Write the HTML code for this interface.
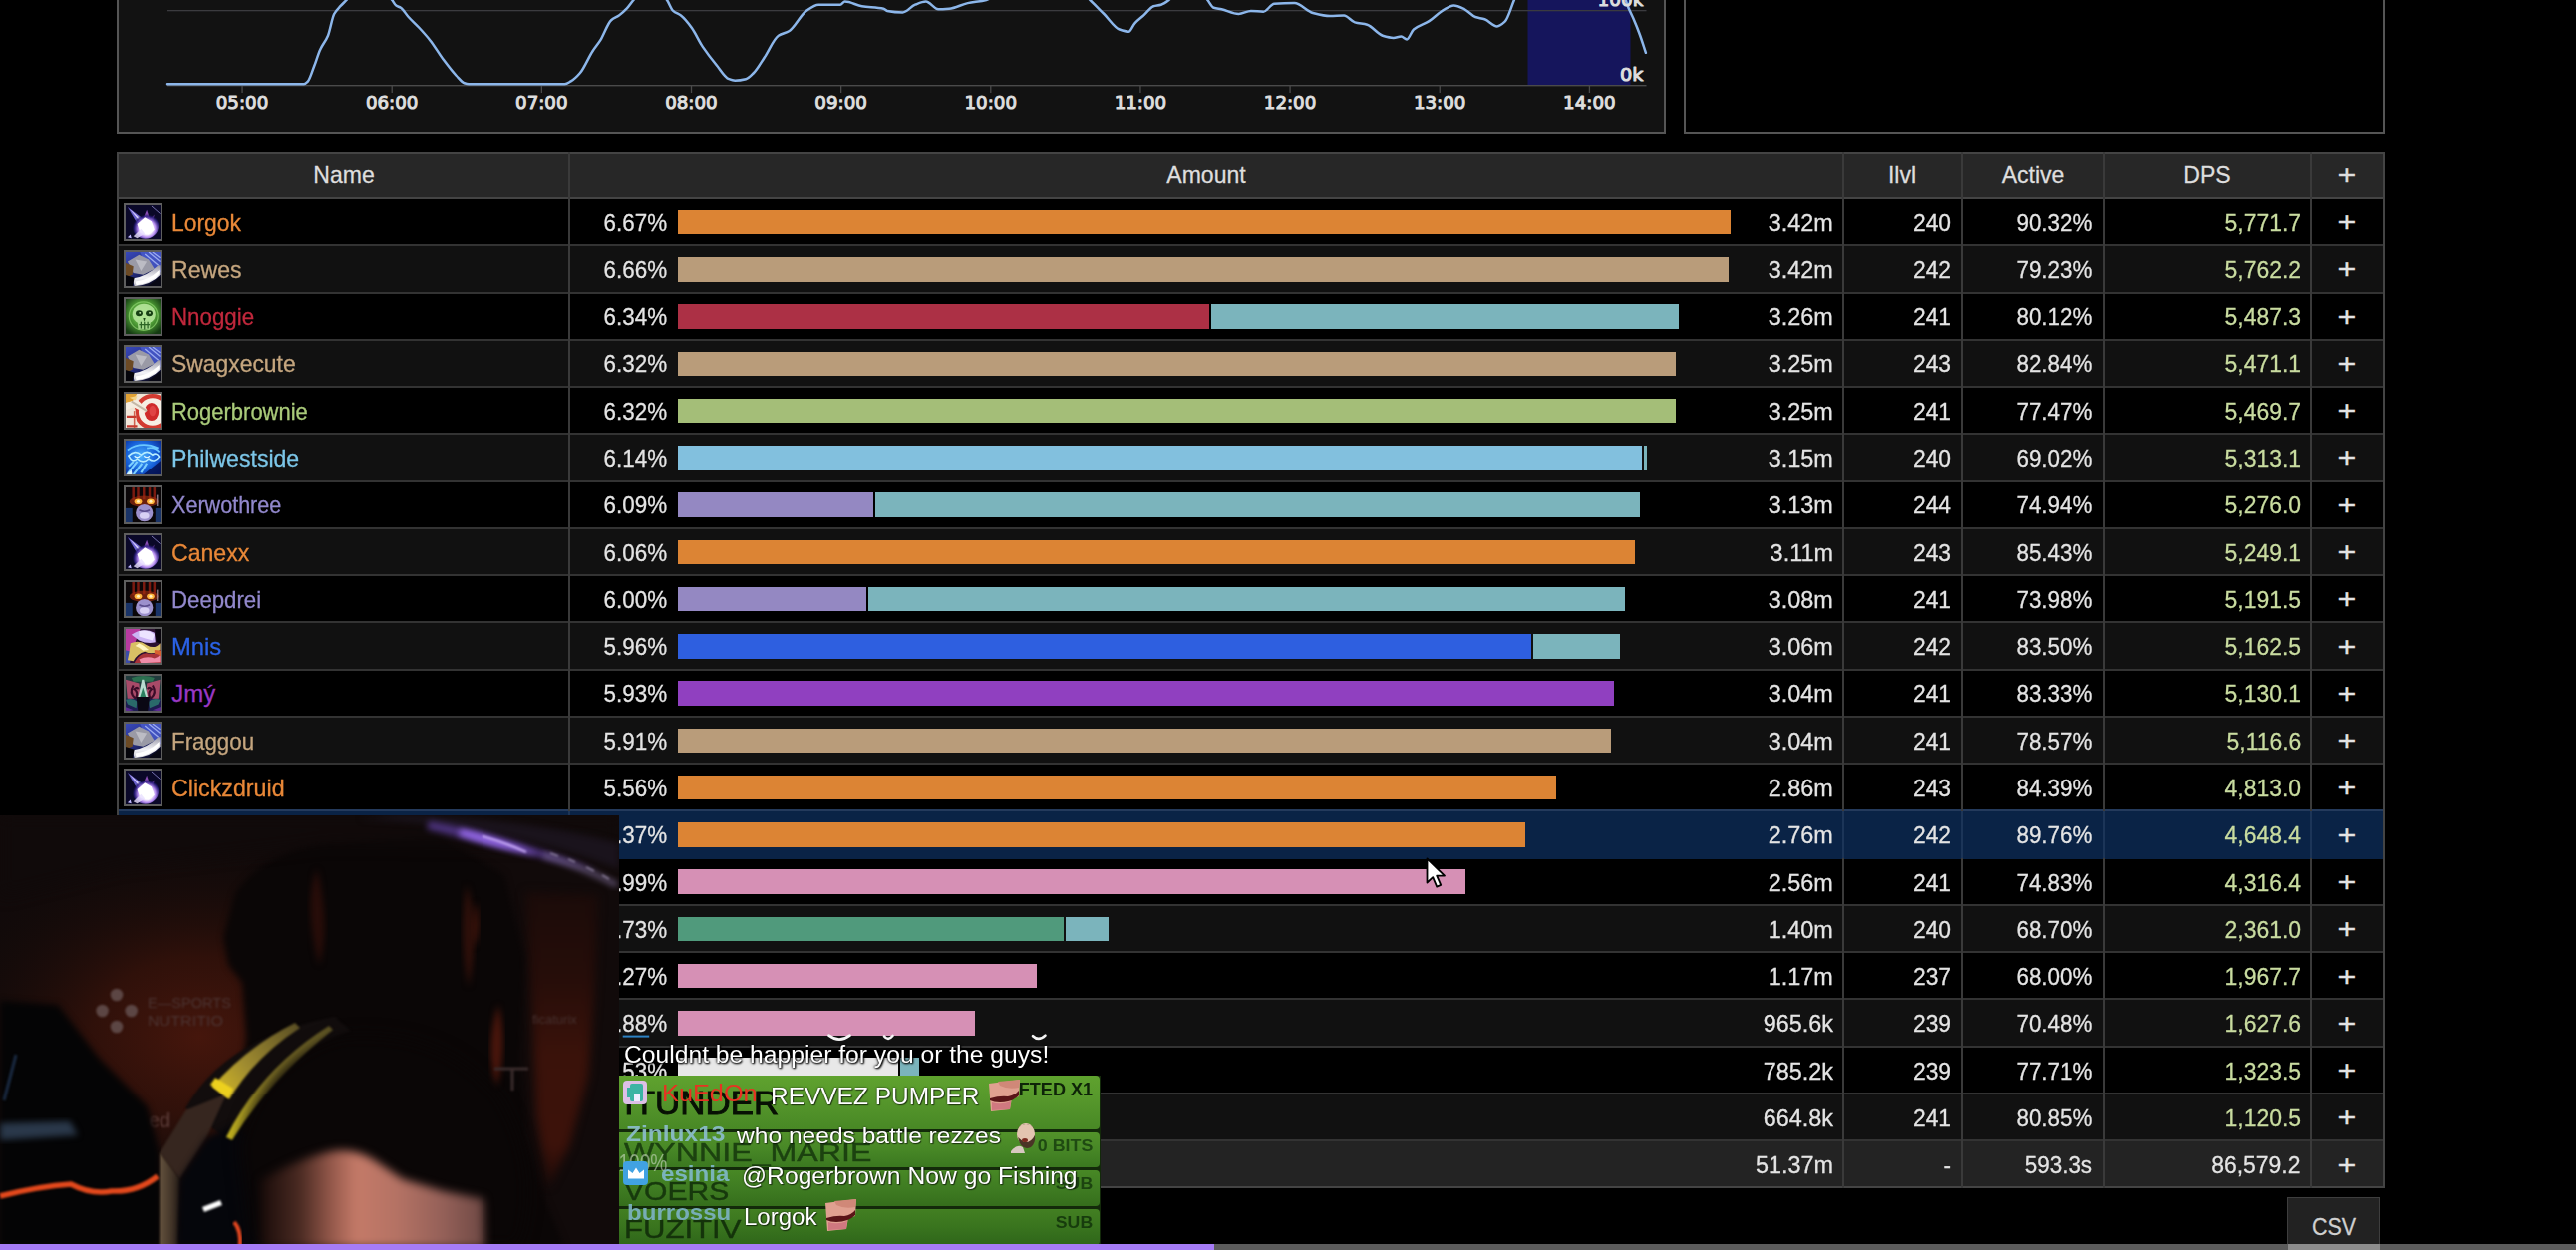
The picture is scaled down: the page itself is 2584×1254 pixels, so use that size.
<!DOCTYPE html>
<html lang="en"><head><meta charset="utf-8"><title>Damage Done</title>
<style>
html,body{margin:0;padding:0;background:#000;}
body{width:2584px;height:1254px;overflow:hidden;position:relative;font-family:"Liberation Sans",Arial,sans-serif;}
#root{position:absolute;left:0;top:0;width:2584px;height:1254px;overflow:hidden;background:#000;}
#root div,#root span,#root svg{position:absolute;}
.t{white-space:nowrap;line-height:30px;height:30px;-webkit-text-stroke:0.3px currentColor;}
.b{white-space:nowrap;line-height:30px;height:30px;font-weight:bold;font-family:"DejaVu Sans","Liberation Sans",sans-serif;}
.c{white-space:nowrap;line-height:30px;height:30px;}
.ic{width:34.6px;height:34.2px;border:2px solid #5e5e5e;overflow:hidden;background:#000;}
</style></head><body><div id="root">
<div style="left:117.00px;top:-10.00px;width:1554.00px;height:143.50px;background:#121212;box-sizing:border-box;border:2px solid #555;"></div>
<div style="left:1688.50px;top:-10.00px;width:703.50px;height:143.50px;background:#000;box-sizing:border-box;border:2px solid #555;"></div>
<svg width="0" height="0" style="left:0;top:0"><defs>
<radialGradient id="gBal" cx="0.55" cy="0.62" r="0.55"><stop offset="0" stop-color="#fff"/><stop offset="0.38" stop-color="#fff"/><stop offset="0.6" stop-color="#b68cf0"/><stop offset="0.85" stop-color="#2a1c80" stop-opacity="0.8"/><stop offset="1" stop-color="#0a0830" stop-opacity="0"/></radialGradient>
<linearGradient id="gArmsBg" x1="0" y1="0" x2="0.6" y2="1"><stop offset="0" stop-color="#3a4cc0"/><stop offset="0.5" stop-color="#27308a"/><stop offset="1" stop-color="#0a0a20"/></linearGradient>
<linearGradient id="gBlade" x1="0" y1="0" x2="0" y2="1"><stop offset="0" stop-color="#9a9aa8"/><stop offset="0.6" stop-color="#f4f4f8"/><stop offset="1" stop-color="#c0c0c8"/></linearGradient>
<radialGradient id="gUh" cx="0.5" cy="0.45" r="0.6"><stop offset="0" stop-color="#9be070"/><stop offset="0.55" stop-color="#4c9a34"/><stop offset="1" stop-color="#143a12"/></radialGradient>
<radialGradient id="gFr" cx="0.45" cy="0.45" r="0.65"><stop offset="0" stop-color="#4ab0ff"/><stop offset="0.6" stop-color="#1660d8"/><stop offset="1" stop-color="#0a2a90"/></radialGradient>
<linearGradient id="gDemo" x1="0" y1="0" x2="0" y2="1"><stop offset="0" stop-color="#3a0c08"/><stop offset="0.35" stop-color="#4a1a10"/><stop offset="0.6" stop-color="#3a3060"/><stop offset="1" stop-color="#1a2a58"/></linearGradient>
<linearGradient id="gEnh" x1="0" y1="0" x2="1" y2="1"><stop offset="0" stop-color="#7038b0"/><stop offset="0.4" stop-color="#c890d8"/><stop offset="0.7" stop-color="#c05060"/><stop offset="1" stop-color="#902030"/></linearGradient>
<linearGradient id="gHav" x1="0" y1="0" x2="0" y2="1"><stop offset="0" stop-color="#4a5a5a"/><stop offset="0.6" stop-color="#2a4a4a"/><stop offset="1" stop-color="#1a2a50"/></linearGradient>
<radialGradient id="gCamL" cx="0.5" cy="0.5" r="0.5"><stop offset="0" stop-color="#3c130b"/><stop offset="0.5" stop-color="#2a0e09" stop-opacity="0.85"/><stop offset="1" stop-color="#0d0706" stop-opacity="0"/></radialGradient>
<radialGradient id="gCamR" cx="0.5" cy="0.5" r="0.5"><stop offset="0" stop-color="#3a1009"/><stop offset="0.6" stop-color="#2a0c08" stop-opacity="0.8"/><stop offset="1" stop-color="#0d0706" stop-opacity="0"/></radialGradient>
<radialGradient id="gSkin" cx="0.42" cy="0.45" r="0.6"><stop offset="0" stop-color="#d08270"/><stop offset="0.5" stop-color="#b06a5c"/><stop offset="1" stop-color="#6a3a34"/></radialGradient>
<linearGradient id="gStripe" x1="0" y1="0" x2="0" y2="1"><stop offset="0" stop-color="#65a930"/><stop offset="0.5" stop-color="#5a9c2a"/><stop offset="1" stop-color="#4a8622"/></linearGradient>
<filter id="bl2" color-interpolation-filters="sRGB" x="-20%" y="-20%" width="140%" height="140%"><feGaussianBlur stdDeviation="2"/></filter>
<filter id="bl5" color-interpolation-filters="sRGB" x="-20%" y="-20%" width="140%" height="140%"><feGaussianBlur stdDeviation="5"/></filter>
<filter id="bl1" color-interpolation-filters="sRGB" x="-20%" y="-20%" width="140%" height="140%"><feGaussianBlur stdDeviation="0.8"/></filter>
</defs></svg>
<svg width="1700" height="134" viewBox="0 0 1700 134" style="left:0;top:0">
<rect x="1532.5" y="0" width="103" height="85" fill="#15155c"/>
<rect x="168" y="10" width="1483.5" height="1.3" fill="#3b3b3f"/>
<rect x="168" y="85" width="1483.5" height="1.4" fill="#4a4a4a"/>
<rect x="242.40" y="86" width="1.3" height="7" fill="#4a4a4a"/>
<rect x="392.55" y="86" width="1.3" height="7" fill="#4a4a4a"/>
<rect x="542.70" y="86" width="1.3" height="7" fill="#4a4a4a"/>
<rect x="692.85" y="86" width="1.3" height="7" fill="#4a4a4a"/>
<rect x="843.00" y="86" width="1.3" height="7" fill="#4a4a4a"/>
<rect x="993.15" y="86" width="1.3" height="7" fill="#4a4a4a"/>
<rect x="1143.30" y="86" width="1.3" height="7" fill="#4a4a4a"/>
<rect x="1293.45" y="86" width="1.3" height="7" fill="#4a4a4a"/>
<rect x="1443.60" y="86" width="1.3" height="7" fill="#4a4a4a"/>
<rect x="1593.75" y="86" width="1.3" height="7" fill="#4a4a4a"/>
<path d="M168.0 84.2 C213.7 84.2 259.3 84.2 305.0 84.2 C306.3 84.2 307.5 82.9 308.8 81.6 C310.9 79.5 312.9 72.1 315.0 66.8 C317.1 61.5 319.1 54.2 321.2 49.7 C323.8 44.0 326.4 41.9 329.0 35.7 C331.1 30.7 333.1 17.8 335.2 14.0 C337.3 10.2 339.3 8.5 341.4 6.2 C343.5 3.9 345.5 2.2 347.6 0.0 C349.1 -1.6 350.5 -5.0 352.0 -5.0 C364.3 -5.0 376.7 -5.0 389.0 -5.0 C390.4 -5.0 391.8 -1.8 393.2 0.0 C394.6 1.7 395.9 4.6 397.3 5.6 C398.9 6.7 400.4 6.8 402.0 7.8 C404.6 9.5 407.1 14.2 409.7 17.0 C413.3 21.0 417.0 24.1 420.6 28.0 C424.2 31.9 427.8 35.8 431.4 40.4 C436.1 46.3 440.7 54.4 445.4 60.6 C449.5 66.1 453.7 71.7 457.8 76.0 C460.4 78.7 463.0 82.3 465.6 83.2 C467.1 83.7 468.7 84.2 470.2 84.2 C502.3 84.2 534.4 84.2 566.5 84.2 C568.6 84.2 570.6 82.6 572.7 81.4 C575.8 79.6 578.9 76.6 582.0 73.0 C586.2 68.1 590.3 57.6 594.5 51.2 C597.1 47.2 599.6 44.5 602.2 40.4 C605.8 34.6 609.5 23.4 613.1 20.2 C615.7 17.9 618.3 17.4 620.9 15.5 C623.5 13.7 626.0 11.4 628.6 8.7 C630.9 6.3 633.2 2.7 635.5 0.0 C637.0 -1.8 638.5 -5.0 640.0 -5.0 C648.3 -5.0 656.7 -5.0 665.0 -5.0 C666.3 -5.0 667.7 -1.9 669.0 0.0 C671.1 3.0 673.1 9.0 675.2 10.9 C677.8 13.2 680.4 13.5 683.0 15.5 C686.6 18.3 690.3 23.0 693.9 28.0 C697.5 33.0 701.1 41.2 704.7 46.6 C709.4 53.6 714.0 59.5 718.7 65.2 C722.8 70.2 727.0 77.7 731.1 79.2 C733.2 80.0 735.2 80.7 737.3 80.7 C740.9 80.7 744.6 80.1 748.2 79.2 C750.8 78.6 753.4 75.6 756.0 73.0 C759.6 69.4 763.2 62.9 766.8 57.5 C771.5 50.5 776.1 38.8 780.8 35.7 C784.4 33.3 788.1 33.2 791.7 31.0 C797.4 27.5 803.1 14.8 808.8 10.9 C812.9 8.1 817.1 4.7 821.2 4.7 C828.4 4.7 835.7 4.7 842.9 4.7 C844.5 4.7 846.0 1.6 847.6 1.6 C853.3 1.6 859.0 5.3 864.7 6.2 C871.9 7.4 879.2 7.0 886.4 8.7 C887.6 9.0 888.8 10.7 890.0 10.9 C895.2 11.9 900.3 12.4 905.5 12.4 C909.7 12.4 913.8 6.3 918.0 4.7 C921.6 3.3 925.2 1.6 928.8 1.6 C932.9 1.6 937.1 9.3 941.2 9.3 C944.8 9.3 948.5 9.0 952.1 8.7 C958.3 8.2 964.5 4.4 970.7 3.1 C976.9 1.8 983.2 1.6 989.4 0.0 C992.9 -0.9 996.5 -5.0 1000.0 -5.0 C1029.3 -5.0 1058.7 -5.0 1088.0 -5.0 C1089.8 -5.0 1091.6 -1.7 1093.4 0.0 C1098.1 4.5 1102.7 9.3 1107.4 14.0 C1112.6 19.2 1117.7 27.6 1122.9 29.5 C1126.0 30.6 1129.1 31.7 1132.2 31.7 C1134.3 31.7 1136.3 25.6 1138.4 23.3 C1141.5 19.9 1144.7 17.8 1147.8 14.9 C1150.9 12.1 1154.0 7.2 1157.1 6.2 C1159.7 5.4 1162.2 5.5 1164.8 4.7 C1167.4 3.9 1170.0 1.9 1172.6 0.0 C1174.4 -1.3 1176.2 -5.0 1178.0 -5.0 C1188.0 -5.0 1198.0 -5.0 1208.0 -5.0 C1209.1 -5.0 1210.3 -1.5 1211.4 0.0 C1213.5 2.8 1215.5 7.1 1217.6 7.8 C1220.2 8.7 1222.8 8.7 1225.4 9.3 C1231.1 10.6 1236.8 14.0 1242.5 14.0 C1246.6 14.0 1250.8 10.9 1254.9 10.9 C1259.0 10.9 1263.2 11.8 1267.3 11.8 C1270.9 11.8 1274.6 3.9 1278.2 3.7 C1284.9 3.3 1291.7 3.1 1298.4 3.1 C1304.6 3.1 1310.8 11.3 1317.0 13.0 C1322.7 14.5 1328.4 16.1 1334.1 16.1 C1338.8 16.1 1343.4 15.5 1348.1 15.5 C1351.7 15.5 1355.4 21.3 1359.0 22.4 C1363.1 23.6 1367.3 23.6 1371.4 24.8 C1376.6 26.3 1381.7 34.1 1386.9 35.7 C1390.5 36.8 1394.2 37.9 1397.8 37.9 C1400.4 37.9 1402.9 36.6 1405.5 36.6 C1407.4 36.6 1409.2 39.4 1411.1 39.4 C1413.4 39.4 1415.7 31.4 1418.0 29.5 C1423.2 25.2 1428.3 24.4 1433.5 21.1 C1438.7 17.8 1443.8 11.9 1449.0 9.3 C1452.1 7.7 1455.2 5.6 1458.3 5.6 C1461.9 5.6 1465.6 7.6 1469.2 9.3 C1472.8 11.0 1476.4 15.7 1480.0 17.0 C1483.1 18.1 1486.3 18.2 1489.4 19.3 C1493.5 20.7 1497.7 26.4 1501.8 26.4 C1504.4 26.4 1507.0 24.1 1509.6 21.7 C1512.7 18.8 1515.8 7.3 1518.9 0.0 C1519.6 -1.7 1520.3 -4.9 1521.0 -5.0 C1556.7 -7.9 1592.3 -8.0 1628.0 -8.0 C1629.4 -8.0 1630.8 1.1 1632.2 4.7 C1634.3 10.1 1636.3 13.7 1638.4 18.6 C1640.5 23.5 1642.6 28.5 1644.7 34.2 C1646.8 39.8 1648.8 46.6 1650.9 52.8" fill="none" stroke="#8cb6ea" stroke-width="2.5" stroke-linejoin="round" stroke-linecap="round"/>
<g font-family="DejaVu Sans, Liberation Sans, sans-serif" font-size="18" fill="#dedede" stroke="#dedede" stroke-width="1.05" stroke-linejoin="round">
<text x="243.00" y="109.4" text-anchor="middle" textLength="52.5" lengthAdjust="spacingAndGlyphs">05:00</text>
<text x="393.15" y="109.4" text-anchor="middle" textLength="52.5" lengthAdjust="spacingAndGlyphs">06:00</text>
<text x="543.30" y="109.4" text-anchor="middle" textLength="52.5" lengthAdjust="spacingAndGlyphs">07:00</text>
<text x="693.45" y="109.4" text-anchor="middle" textLength="52.5" lengthAdjust="spacingAndGlyphs">08:00</text>
<text x="843.60" y="109.4" text-anchor="middle" textLength="52.5" lengthAdjust="spacingAndGlyphs">09:00</text>
<text x="993.75" y="109.4" text-anchor="middle" textLength="52.5" lengthAdjust="spacingAndGlyphs">10:00</text>
<text x="1143.90" y="109.4" text-anchor="middle" textLength="52.5" lengthAdjust="spacingAndGlyphs">11:00</text>
<text x="1294.05" y="109.4" text-anchor="middle" textLength="52.5" lengthAdjust="spacingAndGlyphs">12:00</text>
<text x="1444.20" y="109.4" text-anchor="middle" textLength="52.5" lengthAdjust="spacingAndGlyphs">13:00</text>
<text x="1594.35" y="109.4" text-anchor="middle" textLength="52.5" lengthAdjust="spacingAndGlyphs">14:00</text>
<text x="1648.5" y="80.9" text-anchor="end" textLength="23.5" lengthAdjust="spacingAndGlyphs">0k</text>
<text x="1648.5" y="6.2" text-anchor="end" textLength="46" lengthAdjust="spacingAndGlyphs">100k</text>
</g></svg>
<div style="left:117.50px;top:151.50px;width:2274.50px;height:47.65px;background:#272727;"></div>
<div style="left:117.50px;top:199.15px;width:2274.50px;height:47.25px;background:#000;"></div>
<div style="left:117.50px;top:246.40px;width:2274.50px;height:47.25px;background:#111;"></div>
<div style="left:117.50px;top:293.65px;width:2274.50px;height:47.25px;background:#000;"></div>
<div style="left:117.50px;top:340.90px;width:2274.50px;height:47.25px;background:#111;"></div>
<div style="left:117.50px;top:388.15px;width:2274.50px;height:47.25px;background:#000;"></div>
<div style="left:117.50px;top:435.40px;width:2274.50px;height:47.25px;background:#111;"></div>
<div style="left:117.50px;top:482.65px;width:2274.50px;height:47.25px;background:#000;"></div>
<div style="left:117.50px;top:529.90px;width:2274.50px;height:47.25px;background:#111;"></div>
<div style="left:117.50px;top:577.15px;width:2274.50px;height:47.25px;background:#000;"></div>
<div style="left:117.50px;top:624.40px;width:2274.50px;height:47.25px;background:#111;"></div>
<div style="left:117.50px;top:671.65px;width:2274.50px;height:47.25px;background:#000;"></div>
<div style="left:117.50px;top:718.90px;width:2274.50px;height:47.25px;background:#111;"></div>
<div style="left:117.50px;top:766.15px;width:2274.50px;height:47.25px;background:#000;"></div>
<div style="left:117.50px;top:813.40px;width:2274.50px;height:47.25px;background:#0a2346;"></div>
<div style="left:117.50px;top:860.65px;width:2274.50px;height:47.25px;background:#000;"></div>
<div style="left:117.50px;top:907.90px;width:2274.50px;height:47.25px;background:#111;"></div>
<div style="left:117.50px;top:955.15px;width:2274.50px;height:47.25px;background:#000;"></div>
<div style="left:117.50px;top:1002.40px;width:2274.50px;height:47.25px;background:#111;"></div>
<div style="left:117.50px;top:1049.65px;width:2274.50px;height:47.25px;background:#000;"></div>
<div style="left:117.50px;top:1096.90px;width:2274.50px;height:47.25px;background:#111;"></div>
<div style="left:117.50px;top:1144.15px;width:2274.50px;height:47.25px;background:#232323;"></div>
<div style="left:117.50px;top:151.50px;width:2274.50px;height:2.00px;background:#444;"></div>
<div style="left:117.50px;top:198.15px;width:2274.50px;height:2.00px;background:#444;"></div>
<div style="left:117.50px;top:245.40px;width:2274.50px;height:2.00px;background:#333;"></div>
<div style="left:117.50px;top:292.65px;width:2274.50px;height:2.00px;background:#333;"></div>
<div style="left:117.50px;top:339.90px;width:2274.50px;height:2.00px;background:#333;"></div>
<div style="left:117.50px;top:387.15px;width:2274.50px;height:2.00px;background:#333;"></div>
<div style="left:117.50px;top:434.40px;width:2274.50px;height:2.00px;background:#333;"></div>
<div style="left:117.50px;top:481.65px;width:2274.50px;height:2.00px;background:#333;"></div>
<div style="left:117.50px;top:528.90px;width:2274.50px;height:2.00px;background:#333;"></div>
<div style="left:117.50px;top:576.15px;width:2274.50px;height:2.00px;background:#333;"></div>
<div style="left:117.50px;top:623.40px;width:2274.50px;height:2.00px;background:#333;"></div>
<div style="left:117.50px;top:670.65px;width:2274.50px;height:2.00px;background:#333;"></div>
<div style="left:117.50px;top:717.90px;width:2274.50px;height:2.00px;background:#333;"></div>
<div style="left:117.50px;top:765.15px;width:2274.50px;height:2.00px;background:#333;"></div>
<div style="left:117.50px;top:812.40px;width:2274.50px;height:2.00px;background:#243a5c;"></div>
<div style="left:117.50px;top:859.65px;width:2274.50px;height:2.00px;background:#0a2346;"></div>
<div style="left:117.50px;top:906.90px;width:2274.50px;height:2.00px;background:#333;"></div>
<div style="left:117.50px;top:954.15px;width:2274.50px;height:2.00px;background:#333;"></div>
<div style="left:117.50px;top:1001.40px;width:2274.50px;height:2.00px;background:#333;"></div>
<div style="left:117.50px;top:1048.65px;width:2274.50px;height:2.00px;background:#333;"></div>
<div style="left:117.50px;top:1095.90px;width:2274.50px;height:2.00px;background:#333;"></div>
<div style="left:117.50px;top:1143.15px;width:2274.50px;height:2.00px;background:#333;"></div>
<div style="left:117.50px;top:1190.40px;width:2274.50px;height:2.00px;background:#444;"></div>
<div style="left:117.00px;top:151.50px;width:2.00px;height:1040.90px;background:#444;"></div>
<div style="left:570.00px;top:151.50px;width:2.00px;height:1040.90px;background:#3a3a3a;"></div>
<div style="left:1848.00px;top:151.50px;width:2.00px;height:1040.90px;background:#3a3a3a;"></div>
<div style="left:1966.50px;top:151.50px;width:2.00px;height:1040.90px;background:#3a3a3a;"></div>
<div style="left:2110.00px;top:151.50px;width:2.00px;height:1040.90px;background:#3a3a3a;"></div>
<div style="left:2316.50px;top:151.50px;width:2.00px;height:1040.90px;background:#3a3a3a;"></div>
<div style="left:2390.00px;top:151.50px;width:2.00px;height:1040.90px;background:#444;"></div>
<div style="left:119.50px;top:814.40px;width:2270.50px;height:46.25px;background:#0a2346;"></div>
<div style="left:570.00px;top:814.40px;width:2.00px;height:46.25px;background:#1c3558;"></div>
<div style="left:1848.00px;top:814.40px;width:2.00px;height:46.25px;background:#1c3558;"></div>
<div style="left:1966.50px;top:814.40px;width:2.00px;height:46.25px;background:#1c3558;"></div>
<div style="left:2110.00px;top:814.40px;width:2.00px;height:46.25px;background:#1c3558;"></div>
<div style="left:2316.50px;top:814.40px;width:2.00px;height:46.25px;background:#1c3558;"></div>
<span class="t" style="left:344.50px;top:160.80px;color:#dedede;font-size:24px;transform:translateX(-50%) scaleX(0.96);">Name</span>
<span class="t" style="left:1210.00px;top:160.80px;color:#dedede;font-size:24px;transform:translateX(-50%) scaleX(0.96);">Amount</span>
<span class="t" style="left:1908.25px;top:160.80px;color:#dedede;font-size:24px;transform:translateX(-50%) scaleX(0.96);">Ilvl</span>
<span class="t" style="left:2039.25px;top:160.80px;color:#dedede;font-size:24px;transform:translateX(-50%) scaleX(0.96);">Active</span>
<span class="t" style="left:2214.25px;top:160.80px;color:#dedede;font-size:24px;transform:translateX(-50%) scaleX(0.96);">DPS</span>
<span class="t" style="left:2354.25px;top:161.40px;color:#dedede;font-size:28px;transform:translateX(-50%) scaleX(1.15);">+</span>
<div class="ic" style="left:124px;top:203.88px"><svg width="36" height="36" viewBox="0 0 36 36" preserveAspectRatio="none" style="left:0;top:0;width:100%;height:100%"><g filter="url(#bl1)"><rect x="-2" y="-2" width="40" height="40" fill="#0a0828"/><path d="M2 2 L19 15 L13 21 Z" fill="#7a70e8" opacity="0.85"/><path d="M4 4 L17 16 L15 18 Z" fill="#d8d0ff"/><path d="M22 5 L26 17 L17 17 Z" fill="#b060e0" opacity="0.75"/><path d="M30 10 L27 22 L22 18 Z" fill="#9050d0" opacity="0.6"/><path d="M27 1 L36 9" stroke="#7c78b8" stroke-width="1"/><circle cx="20.5" cy="21.5" r="14" fill="url(#gBal)"/><path d="M12 20 L20 13 L27 17 L30 26 L24 31 L15 29 Z" fill="#fff"/><path d="M8 33 L16 25 L20 30 L12 35 Z" fill="#e8e0ff" opacity="0.8"/><path d="M2 34 L5 31 L6 35Z" fill="#c0b8ff"/></g></svg></div>
<span class="t" style="left:172.20px;top:208.62px;color:#e98838;font-size:24px;transform-origin:0 50%;transform:scaleX(0.9524);">Lorgok</span>
<span class="t" style="right:1914.50px;top:208.62px;color:#e4e4e4;font-size:24px;transform-origin:100% 50%;transform:scaleX(0.933);">6.67%</span>
<div style="left:680.00px;top:210.88px;width:1056.00px;height:24.60px;background:#dc8434;"></div>
<span class="t" style="right:745.00px;top:208.62px;color:#e4e4e4;font-size:24px;transform-origin:100% 50%;transform:scaleX(0.975);">3.42m</span>
<span class="t" style="right:627.00px;top:208.62px;color:#e4e4e4;font-size:24px;transform-origin:100% 50%;transform:scaleX(0.95);">240</span>
<span class="t" style="right:485.50px;top:208.62px;color:#e4e4e4;font-size:24px;transform-origin:100% 50%;transform:scaleX(0.933);">90.32%</span>
<span class="t" style="right:276.20px;top:208.62px;color:#c9dca0;font-size:24px;transform-origin:100% 50%;transform:scaleX(0.955);">5,771.7</span>
<span class="t" style="left:2354.20px;top:208.03px;color:#e4e4e4;font-size:28px;transform:translateX(-50%) scaleX(1.15);">+</span>
<div class="ic" style="left:124px;top:251.12px"><svg width="36" height="36" viewBox="0 0 36 36" preserveAspectRatio="none" style="left:0;top:0;width:100%;height:100%"><g filter="url(#bl1)"><rect x="-2" y="-2" width="40" height="40" fill="url(#gArmsBg)"/><path d="M14 -2 L38 -2 L38 22 L22 16 Z" fill="#4a5cd0" opacity="0.8"/><path d="M20 2 L34 14 M24 0 L36 10 M28 0 L36 6" stroke="#b8c8ff" stroke-width="1.4" opacity="0.75"/><path d="M2 10 L14 3 L24 8 L30 18 L18 24 L8 22 Z" fill="#9a9aa6"/><path d="M10 8 L22 10 L16 20 Z" fill="#c4c4cc" opacity="0.8"/><path d="M-1 11 L8 15 L7 24 L-1 27 Z" fill="#6c4a24"/><path d="M7 28 Q22 26 34 14 L36 14 L36 24 Q26 35 9 36 Z" fill="url(#gBlade)"/><path d="M10 31 Q24 30 35 19 L35 23 Q25 34 11 35 Z" fill="#fff"/><path d="M-1 24 L9 27 L7 37 L-1 37 Z" fill="#04040a"/><path d="M22 37 L37 25 L37 37 Z" fill="#080814"/></g></svg></div>
<span class="t" style="left:172.20px;top:255.90px;color:#c5a67f;font-size:24px;transform-origin:0 50%;transform:scaleX(0.961);">Rewes</span>
<span class="t" style="right:1914.50px;top:255.90px;color:#e4e4e4;font-size:24px;transform-origin:100% 50%;transform:scaleX(0.933);">6.66%</span>
<div style="left:680.00px;top:258.12px;width:1054.26px;height:24.60px;background:#b99c7a;"></div>
<span class="t" style="right:745.00px;top:255.90px;color:#e4e4e4;font-size:24px;transform-origin:100% 50%;transform:scaleX(0.975);">3.42m</span>
<span class="t" style="right:627.00px;top:255.90px;color:#e4e4e4;font-size:24px;transform-origin:100% 50%;transform:scaleX(0.95);">242</span>
<span class="t" style="right:485.50px;top:255.90px;color:#e4e4e4;font-size:24px;transform-origin:100% 50%;transform:scaleX(0.933);">79.23%</span>
<span class="t" style="right:276.20px;top:255.90px;color:#c9dca0;font-size:24px;transform-origin:100% 50%;transform:scaleX(0.955);">5,762.2</span>
<span class="t" style="left:2354.20px;top:255.30px;color:#e4e4e4;font-size:28px;transform:translateX(-50%) scaleX(1.15);">+</span>
<div class="ic" style="left:124px;top:298.37px"><svg width="36" height="36" viewBox="0 0 36 36" preserveAspectRatio="none" style="left:0;top:0;width:100%;height:100%"><g filter="url(#bl1)"><rect x="-2" y="-2" width="40" height="40" fill="url(#gUh)"/><circle cx="18.5" cy="18" r="15" fill="none" stroke="#86cc68" stroke-width="1.3" opacity="0.8"/><ellipse cx="19" cy="16" rx="12" ry="11" fill="#b4e49a" opacity="0.9"/><path d="M12 22 L26 22 L25 32 L13 32 Z" fill="#a8dc90" opacity="0.9"/><ellipse cx="14" cy="15" rx="3.6" ry="3.2" fill="#173f14"/><ellipse cx="24.5" cy="15" rx="3.6" ry="3.2" fill="#173f14"/><circle cx="14.8" cy="14.6" r="1" fill="#c8f0b0"/><circle cx="25" cy="14.6" r="1" fill="#c8f0b0"/><path d="M18 20 L20.5 20 L19.2 24 Z" fill="#1c4a18"/><path d="M14 27 H25 M16 24 V31 M19.5 24 V32 M23 24 V31" stroke="#2c6424" stroke-width="1.3"/></g></svg></div>
<span class="t" style="left:172.20px;top:303.18px;color:#c0283c;font-size:24px;transform-origin:0 50%;transform:scaleX(0.9295);">Nnoggie</span>
<span class="t" style="right:1914.50px;top:303.18px;color:#e4e4e4;font-size:24px;transform-origin:100% 50%;transform:scaleX(0.933);">6.34%</span>
<div style="left:680.00px;top:305.37px;width:533.00px;height:24.60px;background:#ac3045;"></div>
<div style="left:1214.50px;top:305.37px;width:469.47px;height:24.60px;background:#7bb4bc;"></div>
<span class="t" style="right:745.00px;top:303.18px;color:#e4e4e4;font-size:24px;transform-origin:100% 50%;transform:scaleX(0.975);">3.26m</span>
<span class="t" style="right:627.00px;top:303.18px;color:#e4e4e4;font-size:24px;transform-origin:100% 50%;transform:scaleX(0.95);">241</span>
<span class="t" style="right:485.50px;top:303.18px;color:#e4e4e4;font-size:24px;transform-origin:100% 50%;transform:scaleX(0.933);">80.12%</span>
<span class="t" style="right:276.20px;top:303.18px;color:#c9dca0;font-size:24px;transform-origin:100% 50%;transform:scaleX(0.955);">5,487.3</span>
<span class="t" style="left:2354.20px;top:302.58px;color:#e4e4e4;font-size:28px;transform:translateX(-50%) scaleX(1.15);">+</span>
<div class="ic" style="left:124px;top:345.62px"><svg width="36" height="36" viewBox="0 0 36 36" preserveAspectRatio="none" style="left:0;top:0;width:100%;height:100%"><g filter="url(#bl1)"><rect x="-2" y="-2" width="40" height="40" fill="url(#gArmsBg)"/><path d="M14 -2 L38 -2 L38 22 L22 16 Z" fill="#4a5cd0" opacity="0.8"/><path d="M20 2 L34 14 M24 0 L36 10 M28 0 L36 6" stroke="#b8c8ff" stroke-width="1.4" opacity="0.75"/><path d="M2 10 L14 3 L24 8 L30 18 L18 24 L8 22 Z" fill="#9a9aa6"/><path d="M10 8 L22 10 L16 20 Z" fill="#c4c4cc" opacity="0.8"/><path d="M-1 11 L8 15 L7 24 L-1 27 Z" fill="#6c4a24"/><path d="M7 28 Q22 26 34 14 L36 14 L36 24 Q26 35 9 36 Z" fill="url(#gBlade)"/><path d="M10 31 Q24 30 35 19 L35 23 Q25 34 11 35 Z" fill="#fff"/><path d="M-1 24 L9 27 L7 37 L-1 37 Z" fill="#04040a"/><path d="M22 37 L37 25 L37 37 Z" fill="#080814"/></g></svg></div>
<span class="t" style="left:172.20px;top:350.46px;color:#c5a67f;font-size:24px;transform-origin:0 50%;transform:scaleX(0.9537);">Swagxecute</span>
<span class="t" style="right:1914.50px;top:350.46px;color:#e4e4e4;font-size:24px;transform-origin:100% 50%;transform:scaleX(0.933);">6.32%</span>
<div style="left:680.00px;top:352.62px;width:1001.00px;height:24.60px;background:#b99c7a;"></div>
<span class="t" style="right:745.00px;top:350.46px;color:#e4e4e4;font-size:24px;transform-origin:100% 50%;transform:scaleX(0.975);">3.25m</span>
<span class="t" style="right:627.00px;top:350.46px;color:#e4e4e4;font-size:24px;transform-origin:100% 50%;transform:scaleX(0.95);">243</span>
<span class="t" style="right:485.50px;top:350.46px;color:#e4e4e4;font-size:24px;transform-origin:100% 50%;transform:scaleX(0.933);">82.84%</span>
<span class="t" style="right:276.20px;top:350.46px;color:#c9dca0;font-size:24px;transform-origin:100% 50%;transform:scaleX(0.955);">5,471.1</span>
<span class="t" style="left:2354.20px;top:349.86px;color:#e4e4e4;font-size:28px;transform:translateX(-50%) scaleX(1.15);">+</span>
<div class="ic" style="left:124px;top:392.87px"><svg width="36" height="36" viewBox="0 0 36 36" preserveAspectRatio="none" style="left:0;top:0;width:100%;height:100%"><g filter="url(#bl1)"><rect x="-2" y="-2" width="40" height="40" fill="#f0e4d4"/><circle cx="28" cy="19" r="19" fill="#d23a30"/><circle cx="28" cy="19" r="14.5" fill="#f6eee4"/><ellipse cx="27" cy="19" rx="7.5" ry="9.5" fill="#cf2a2a"/><ellipse cx="28" cy="18" rx="3.5" ry="5.5" fill="#e04444"/><path d="M-2 -2 L13 -2 L7 8 L-2 10 Z" fill="#e2a234"/><path d="M4 4 L12 2 L10 7 Z" fill="#f4d488"/><path d="M-2 10 L12 6 L22 16 L20 20 L8 14 L-2 18 Z" fill="#f4ece0"/><path d="M6 8 L22 18" stroke="#c4b8a8" stroke-width="2"/><path d="M-2 18 L10 16 L12 37 L-2 37 Z" fill="#f2e6da"/><path d="M1 24 H11 M1 34 H12" stroke="#c43a30" stroke-width="2.4"/><path d="M9 18 V37" stroke="#c8402c" stroke-width="1.6" opacity="0.8"/></g></svg></div>
<span class="t" style="left:172.20px;top:397.74px;color:#aacb7a;font-size:24px;transform-origin:0 50%;transform:scaleX(0.9155);">Rogerbrownie</span>
<span class="t" style="right:1914.50px;top:397.74px;color:#e4e4e4;font-size:24px;transform-origin:100% 50%;transform:scaleX(0.933);">6.32%</span>
<div style="left:680.00px;top:399.87px;width:1000.75px;height:24.60px;background:#a4be78;"></div>
<span class="t" style="right:745.00px;top:397.74px;color:#e4e4e4;font-size:24px;transform-origin:100% 50%;transform:scaleX(0.975);">3.25m</span>
<span class="t" style="right:627.00px;top:397.74px;color:#e4e4e4;font-size:24px;transform-origin:100% 50%;transform:scaleX(0.95);">241</span>
<span class="t" style="right:485.50px;top:397.74px;color:#e4e4e4;font-size:24px;transform-origin:100% 50%;transform:scaleX(0.933);">77.47%</span>
<span class="t" style="right:276.20px;top:397.74px;color:#c9dca0;font-size:24px;transform-origin:100% 50%;transform:scaleX(0.955);">5,469.7</span>
<span class="t" style="left:2354.20px;top:397.14px;color:#e4e4e4;font-size:28px;transform:translateX(-50%) scaleX(1.15);">+</span>
<div class="ic" style="left:124px;top:440.12px"><svg width="36" height="36" viewBox="0 0 36 36" preserveAspectRatio="none" style="left:0;top:0;width:100%;height:100%"><g filter="url(#bl1)"><rect x="-2" y="-2" width="40" height="40" fill="url(#gFr)"/><path d="M38 20 L38 38 L16 38 Z" fill="#041050" opacity="0.85"/><path d="M2 10 Q16 0 34 8 M22 8 Q30 6 35 12" fill="none" stroke="#6cc8ff" stroke-width="1.8"/><path d="M3 16 Q10 9 16 15 Q22 9 28 15 Q32 12 35 17 Q30 24 24 19 Q18 25 12 19 Q7 24 3 16 Z" fill="none" stroke="#b4ecff" stroke-width="1.7"/><path d="M9 16 Q12 19 15 16 M19 16 Q22 19 25 16" stroke="#dcf6ff" stroke-width="1.3" fill="none"/><path d="M2 35 L12 22 M8 36 L17 24 M16 34 L22 24 M3 27 L8 22" stroke="#7cd0ff" stroke-width="2.2"/><path d="M0 36 L6 31 L7 37Z" fill="#d8f4ff"/></g></svg></div>
<span class="t" style="left:172.20px;top:445.02px;color:#7cc6e8;font-size:24px;transform-origin:0 50%;transform:scaleX(0.961);">Philwestside</span>
<span class="t" style="right:1914.50px;top:445.02px;color:#e4e4e4;font-size:24px;transform-origin:100% 50%;transform:scaleX(0.933);">6.14%</span>
<div style="left:680.00px;top:447.12px;width:967.00px;height:24.60px;background:#82c0de;"></div>
<div style="left:1648.50px;top:447.12px;width:3.59px;height:24.60px;background:#7bb4bc;"></div>
<span class="t" style="right:745.00px;top:445.02px;color:#e4e4e4;font-size:24px;transform-origin:100% 50%;transform:scaleX(0.975);">3.15m</span>
<span class="t" style="right:627.00px;top:445.02px;color:#e4e4e4;font-size:24px;transform-origin:100% 50%;transform:scaleX(0.95);">240</span>
<span class="t" style="right:485.50px;top:445.02px;color:#e4e4e4;font-size:24px;transform-origin:100% 50%;transform:scaleX(0.933);">69.02%</span>
<span class="t" style="right:276.20px;top:445.02px;color:#c9dca0;font-size:24px;transform-origin:100% 50%;transform:scaleX(0.955);">5,313.1</span>
<span class="t" style="left:2354.20px;top:444.42px;color:#e4e4e4;font-size:28px;transform:translateX(-50%) scaleX(1.15);">+</span>
<div class="ic" style="left:124px;top:487.37px"><svg width="36" height="36" viewBox="0 0 36 36" preserveAspectRatio="none" style="left:0;top:0;width:100%;height:100%"><g filter="url(#bl1)"><rect x="-2" y="-2" width="40" height="40" fill="#0a0608"/><path d="M8 0 V14 M13 -1 V12 M19 0 V13 M25 -1 V12 M30 0 V14" stroke="#7a1a10" stroke-width="2.6"/><ellipse cx="19" cy="15" rx="15" ry="6" fill="#a02c10" opacity="0.65"/><ellipse cx="13" cy="15" rx="4" ry="3" fill="#ffb43c"/><ellipse cx="26" cy="15" rx="4" ry="3" fill="#ffb43c"/><circle cx="13" cy="15" r="1.6" fill="#fff2c0"/><circle cx="26" cy="15" r="1.6" fill="#fff2c0"/><ellipse cx="19.5" cy="27" rx="9" ry="9" fill="#9c90cc"/><ellipse cx="19.5" cy="30" rx="5" ry="3.4" fill="#d8d0f4"/><path d="M14 24 Q19.5 27 25 24" stroke="#5a4c8c" stroke-width="1.6" fill="none"/><rect x="-2" y="22" width="9" height="16" fill="#1c3c78" opacity="0.85"/><rect x="31" y="22" width="8" height="16" fill="#1c3c78" opacity="0.85"/><path d="M33 8 V20" stroke="#b8a0b0" stroke-width="1.6" opacity="0.7"/></g></svg></div>
<span class="t" style="left:172.20px;top:492.30px;color:#9288cc;font-size:24px;transform-origin:0 50%;transform:scaleX(0.8987);">Xerwothree</span>
<span class="t" style="right:1914.50px;top:492.30px;color:#e4e4e4;font-size:24px;transform-origin:100% 50%;transform:scaleX(0.933);">6.09%</span>
<div style="left:680.00px;top:494.37px;width:196.00px;height:24.60px;background:#9488c2;"></div>
<div style="left:877.50px;top:494.37px;width:767.81px;height:24.60px;background:#7bb4bc;"></div>
<span class="t" style="right:745.00px;top:492.30px;color:#e4e4e4;font-size:24px;transform-origin:100% 50%;transform:scaleX(0.975);">3.13m</span>
<span class="t" style="right:627.00px;top:492.30px;color:#e4e4e4;font-size:24px;transform-origin:100% 50%;transform:scaleX(0.95);">244</span>
<span class="t" style="right:485.50px;top:492.30px;color:#e4e4e4;font-size:24px;transform-origin:100% 50%;transform:scaleX(0.933);">74.94%</span>
<span class="t" style="right:276.20px;top:492.30px;color:#c9dca0;font-size:24px;transform-origin:100% 50%;transform:scaleX(0.955);">5,276.0</span>
<span class="t" style="left:2354.20px;top:491.70px;color:#e4e4e4;font-size:28px;transform:translateX(-50%) scaleX(1.15);">+</span>
<div class="ic" style="left:124px;top:534.62px"><svg width="36" height="36" viewBox="0 0 36 36" preserveAspectRatio="none" style="left:0;top:0;width:100%;height:100%"><g filter="url(#bl1)"><rect x="-2" y="-2" width="40" height="40" fill="#0a0828"/><path d="M2 2 L19 15 L13 21 Z" fill="#7a70e8" opacity="0.85"/><path d="M4 4 L17 16 L15 18 Z" fill="#d8d0ff"/><path d="M22 5 L26 17 L17 17 Z" fill="#b060e0" opacity="0.75"/><path d="M30 10 L27 22 L22 18 Z" fill="#9050d0" opacity="0.6"/><path d="M27 1 L36 9" stroke="#7c78b8" stroke-width="1"/><circle cx="20.5" cy="21.5" r="14" fill="url(#gBal)"/><path d="M12 20 L20 13 L27 17 L30 26 L24 31 L15 29 Z" fill="#fff"/><path d="M8 33 L16 25 L20 30 L12 35 Z" fill="#e8e0ff" opacity="0.8"/><path d="M2 34 L5 31 L6 35Z" fill="#c0b8ff"/></g></svg></div>
<span class="t" style="left:172.20px;top:539.59px;color:#e98838;font-size:24px;transform-origin:0 50%;transform:scaleX(0.9622);">Canexx</span>
<span class="t" style="right:1914.50px;top:539.59px;color:#e4e4e4;font-size:24px;transform-origin:100% 50%;transform:scaleX(0.933);">6.06%</span>
<div style="left:680.00px;top:541.62px;width:960.38px;height:24.60px;background:#dc8434;"></div>
<span class="t" style="right:745.00px;top:539.59px;color:#e4e4e4;font-size:24px;transform-origin:100% 50%;transform:scaleX(0.975);">3.11m</span>
<span class="t" style="right:627.00px;top:539.59px;color:#e4e4e4;font-size:24px;transform-origin:100% 50%;transform:scaleX(0.95);">243</span>
<span class="t" style="right:485.50px;top:539.59px;color:#e4e4e4;font-size:24px;transform-origin:100% 50%;transform:scaleX(0.933);">85.43%</span>
<span class="t" style="right:276.20px;top:539.59px;color:#c9dca0;font-size:24px;transform-origin:100% 50%;transform:scaleX(0.955);">5,249.1</span>
<span class="t" style="left:2354.20px;top:538.99px;color:#e4e4e4;font-size:28px;transform:translateX(-50%) scaleX(1.15);">+</span>
<div class="ic" style="left:124px;top:581.88px"><svg width="36" height="36" viewBox="0 0 36 36" preserveAspectRatio="none" style="left:0;top:0;width:100%;height:100%"><g filter="url(#bl1)"><rect x="-2" y="-2" width="40" height="40" fill="#0a0608"/><path d="M8 0 V14 M13 -1 V12 M19 0 V13 M25 -1 V12 M30 0 V14" stroke="#7a1a10" stroke-width="2.6"/><ellipse cx="19" cy="15" rx="15" ry="6" fill="#a02c10" opacity="0.65"/><ellipse cx="13" cy="15" rx="4" ry="3" fill="#ffb43c"/><ellipse cx="26" cy="15" rx="4" ry="3" fill="#ffb43c"/><circle cx="13" cy="15" r="1.6" fill="#fff2c0"/><circle cx="26" cy="15" r="1.6" fill="#fff2c0"/><ellipse cx="19.5" cy="27" rx="9" ry="9" fill="#9c90cc"/><ellipse cx="19.5" cy="30" rx="5" ry="3.4" fill="#d8d0f4"/><path d="M14 24 Q19.5 27 25 24" stroke="#5a4c8c" stroke-width="1.6" fill="none"/><rect x="-2" y="22" width="9" height="16" fill="#1c3c78" opacity="0.85"/><rect x="31" y="22" width="8" height="16" fill="#1c3c78" opacity="0.85"/><path d="M33 8 V20" stroke="#b8a0b0" stroke-width="1.6" opacity="0.7"/></g></svg></div>
<span class="t" style="left:172.20px;top:586.87px;color:#9288cc;font-size:24px;transform-origin:0 50%;transform:scaleX(0.925);">Deepdrei</span>
<span class="t" style="right:1914.50px;top:586.87px;color:#e4e4e4;font-size:24px;transform-origin:100% 50%;transform:scaleX(0.933);">6.00%</span>
<div style="left:680.00px;top:588.88px;width:189.00px;height:24.60px;background:#9488c2;"></div>
<div style="left:870.50px;top:588.88px;width:759.35px;height:24.60px;background:#7bb4bc;"></div>
<span class="t" style="right:745.00px;top:586.87px;color:#e4e4e4;font-size:24px;transform-origin:100% 50%;transform:scaleX(0.975);">3.08m</span>
<span class="t" style="right:627.00px;top:586.87px;color:#e4e4e4;font-size:24px;transform-origin:100% 50%;transform:scaleX(0.95);">241</span>
<span class="t" style="right:485.50px;top:586.87px;color:#e4e4e4;font-size:24px;transform-origin:100% 50%;transform:scaleX(0.933);">73.98%</span>
<span class="t" style="right:276.20px;top:586.87px;color:#c9dca0;font-size:24px;transform-origin:100% 50%;transform:scaleX(0.955);">5,191.5</span>
<span class="t" style="left:2354.20px;top:586.26px;color:#e4e4e4;font-size:28px;transform:translateX(-50%) scaleX(1.15);">+</span>
<div class="ic" style="left:124px;top:629.12px"><svg width="36" height="36" viewBox="0 0 36 36" preserveAspectRatio="none" style="left:0;top:0;width:100%;height:100%"><g filter="url(#bl1)"><rect x="-2" y="-2" width="40" height="40" fill="#2a1030"/><path d="M-2 -2 L16 -2 L10 14 L4 30 L-2 38 Z" fill="#b83aa0"/><path d="M-2 22 L6 24 L4 38 L-2 38 Z" fill="#3c4ca8"/><path d="M6 6 Q18 -2 30 4 L31 14 Q22 16 14 12 Z" fill="#cbb4f4"/><path d="M14 2 Q24 0 30 6 L28 12 Q20 10 14 8Z" fill="#ece4ff"/><path d="M30 -2 L38 -2 L38 16 L32 14 Z" fill="#08040c"/><path d="M5 15 Q14 11 22 17 Q30 22 36 15 L36 22 Q28 28 20 24 Q12 26 8 34 L2 33 Q4 24 5 15 Z" fill="#d9c064"/><path d="M14 15 Q20 18 24 22 L18 23 Q14 19 10 18Z" fill="#fff4c0"/><path d="M10 34 Q16 24 24 26 Q32 28 38 20 L38 38 L8 38 Z" fill="#a83238"/><path d="M14 32 Q22 28 30 31 Q34 30 36 27 L36 35 L16 36Z" fill="#f08ca8"/><path d="M30 22 Q36 22 38 24 L38 30 Q34 26 30 26Z" fill="#d86030"/></g></svg></div>
<span class="t" style="left:172.20px;top:634.14px;color:#2b62e6;font-size:24px;transform-origin:0 50%;transform:scaleX(0.9907);">Mnis</span>
<span class="t" style="right:1914.50px;top:634.14px;color:#e4e4e4;font-size:24px;transform-origin:100% 50%;transform:scaleX(0.933);">5.96%</span>
<div style="left:680.00px;top:636.12px;width:856.00px;height:24.60px;background:#2e5fe0;"></div>
<div style="left:1537.50px;top:636.12px;width:87.04px;height:24.60px;background:#7bb4bc;"></div>
<span class="t" style="right:745.00px;top:634.14px;color:#e4e4e4;font-size:24px;transform-origin:100% 50%;transform:scaleX(0.975);">3.06m</span>
<span class="t" style="right:627.00px;top:634.14px;color:#e4e4e4;font-size:24px;transform-origin:100% 50%;transform:scaleX(0.95);">242</span>
<span class="t" style="right:485.50px;top:634.14px;color:#e4e4e4;font-size:24px;transform-origin:100% 50%;transform:scaleX(0.933);">83.50%</span>
<span class="t" style="right:276.20px;top:634.14px;color:#c9dca0;font-size:24px;transform-origin:100% 50%;transform:scaleX(0.955);">5,162.5</span>
<span class="t" style="left:2354.20px;top:633.54px;color:#e4e4e4;font-size:28px;transform:translateX(-50%) scaleX(1.15);">+</span>
<div class="ic" style="left:124px;top:676.38px"><svg width="36" height="36" viewBox="0 0 36 36" preserveAspectRatio="none" style="left:0;top:0;width:100%;height:100%"><g filter="url(#bl1)"><rect x="-2" y="-2" width="40" height="40" fill="#203a3c"/><path d="M6 2 Q18 -2 30 2 L28 6 L8 6 Z" fill="#2c7050"/><path d="M0 4 L14 8 L15 24 L2 26 Z" fill="#a84a68"/><path d="M36 4 L22 8 L21 24 L34 26 Z" fill="#a84a68"/><path d="M8 10 Q3 18 10 24 Q14 18 9 14 Q12 11 13 14" fill="none" stroke="#3a0c28" stroke-width="2.2"/><path d="M28 10 Q33 18 26 24 Q22 18 27 14 Q24 11 23 14" fill="none" stroke="#3a0c28" stroke-width="2.2"/><path d="M17 4 L19 4 L23 22 L13 22 Z" fill="#b8dcd0"/><path d="M18 12 L21 22 L15 22 Z" fill="#2c8060"/><rect x="-2" y="24" width="40" height="14" fill="#1c1c50"/><path d="M0 25 Q8 23 12 27 L11 34 L2 30Z" fill="#2a6a6a"/><path d="M36 25 Q28 23 24 27 L25 34 L34 30Z" fill="#2a6a6a"/><path d="M11 22 L25 22 L23 38 L13 38 Z" fill="#0a0814"/><path d="M-2 32 L8 36 L-2 38Z M38 32 L28 36 L38 38Z" fill="#5a2a90"/></g></svg></div>
<span class="t" style="left:172.20px;top:681.42px;color:#9a38c4;font-size:24px;transform-origin:0 50%;transform:scaleX(1.0);">Jmý</span>
<span class="t" style="right:1914.50px;top:681.42px;color:#e4e4e4;font-size:24px;transform-origin:100% 50%;transform:scaleX(0.933);">5.93%</span>
<div style="left:680.00px;top:683.38px;width:938.61px;height:24.60px;background:#9040c0;"></div>
<span class="t" style="right:745.00px;top:681.42px;color:#e4e4e4;font-size:24px;transform-origin:100% 50%;transform:scaleX(0.975);">3.04m</span>
<span class="t" style="right:627.00px;top:681.42px;color:#e4e4e4;font-size:24px;transform-origin:100% 50%;transform:scaleX(0.95);">241</span>
<span class="t" style="right:485.50px;top:681.42px;color:#e4e4e4;font-size:24px;transform-origin:100% 50%;transform:scaleX(0.933);">83.33%</span>
<span class="t" style="right:276.20px;top:681.42px;color:#c9dca0;font-size:24px;transform-origin:100% 50%;transform:scaleX(0.955);">5,130.1</span>
<span class="t" style="left:2354.20px;top:680.82px;color:#e4e4e4;font-size:28px;transform:translateX(-50%) scaleX(1.15);">+</span>
<div class="ic" style="left:124px;top:723.62px"><svg width="36" height="36" viewBox="0 0 36 36" preserveAspectRatio="none" style="left:0;top:0;width:100%;height:100%"><g filter="url(#bl1)"><rect x="-2" y="-2" width="40" height="40" fill="url(#gArmsBg)"/><path d="M14 -2 L38 -2 L38 22 L22 16 Z" fill="#4a5cd0" opacity="0.8"/><path d="M20 2 L34 14 M24 0 L36 10 M28 0 L36 6" stroke="#b8c8ff" stroke-width="1.4" opacity="0.75"/><path d="M2 10 L14 3 L24 8 L30 18 L18 24 L8 22 Z" fill="#9a9aa6"/><path d="M10 8 L22 10 L16 20 Z" fill="#c4c4cc" opacity="0.8"/><path d="M-1 11 L8 15 L7 24 L-1 27 Z" fill="#6c4a24"/><path d="M7 28 Q22 26 34 14 L36 14 L36 24 Q26 35 9 36 Z" fill="url(#gBlade)"/><path d="M10 31 Q24 30 35 19 L35 23 Q25 34 11 35 Z" fill="#fff"/><path d="M-1 24 L9 27 L7 37 L-1 37 Z" fill="#04040a"/><path d="M22 37 L37 25 L37 37 Z" fill="#080814"/></g></svg></div>
<span class="t" style="left:172.20px;top:728.71px;color:#c5a67f;font-size:24px;transform-origin:0 50%;transform:scaleX(0.9296);">Fraggou</span>
<span class="t" style="right:1914.50px;top:728.71px;color:#e4e4e4;font-size:24px;transform-origin:100% 50%;transform:scaleX(0.933);">5.91%</span>
<div style="left:680.00px;top:730.62px;width:936.14px;height:24.60px;background:#b99c7a;"></div>
<span class="t" style="right:745.00px;top:728.71px;color:#e4e4e4;font-size:24px;transform-origin:100% 50%;transform:scaleX(0.975);">3.04m</span>
<span class="t" style="right:627.00px;top:728.71px;color:#e4e4e4;font-size:24px;transform-origin:100% 50%;transform:scaleX(0.95);">241</span>
<span class="t" style="right:485.50px;top:728.71px;color:#e4e4e4;font-size:24px;transform-origin:100% 50%;transform:scaleX(0.933);">78.57%</span>
<span class="t" style="right:276.20px;top:728.71px;color:#c9dca0;font-size:24px;transform-origin:100% 50%;transform:scaleX(0.955);">5,116.6</span>
<span class="t" style="left:2354.20px;top:728.11px;color:#e4e4e4;font-size:28px;transform:translateX(-50%) scaleX(1.15);">+</span>
<div class="ic" style="left:124px;top:770.88px"><svg width="36" height="36" viewBox="0 0 36 36" preserveAspectRatio="none" style="left:0;top:0;width:100%;height:100%"><g filter="url(#bl1)"><rect x="-2" y="-2" width="40" height="40" fill="#0a0828"/><path d="M2 2 L19 15 L13 21 Z" fill="#7a70e8" opacity="0.85"/><path d="M4 4 L17 16 L15 18 Z" fill="#d8d0ff"/><path d="M22 5 L26 17 L17 17 Z" fill="#b060e0" opacity="0.75"/><path d="M30 10 L27 22 L22 18 Z" fill="#9050d0" opacity="0.6"/><path d="M27 1 L36 9" stroke="#7c78b8" stroke-width="1"/><circle cx="20.5" cy="21.5" r="14" fill="url(#gBal)"/><path d="M12 20 L20 13 L27 17 L30 26 L24 31 L15 29 Z" fill="#fff"/><path d="M8 33 L16 25 L20 30 L12 35 Z" fill="#e8e0ff" opacity="0.8"/><path d="M2 34 L5 31 L6 35Z" fill="#c0b8ff"/></g></svg></div>
<span class="t" style="left:172.20px;top:775.99px;color:#e98838;font-size:24px;transform-origin:0 50%;transform:scaleX(0.9678);">Clickzdruid</span>
<span class="t" style="right:1914.50px;top:775.99px;color:#e4e4e4;font-size:24px;transform-origin:100% 50%;transform:scaleX(0.933);">5.56%</span>
<div style="left:680.00px;top:777.88px;width:880.59px;height:24.60px;background:#dc8434;"></div>
<span class="t" style="right:745.00px;top:775.99px;color:#e4e4e4;font-size:24px;transform-origin:100% 50%;transform:scaleX(0.975);">2.86m</span>
<span class="t" style="right:627.00px;top:775.99px;color:#e4e4e4;font-size:24px;transform-origin:100% 50%;transform:scaleX(0.95);">243</span>
<span class="t" style="right:485.50px;top:775.99px;color:#e4e4e4;font-size:24px;transform-origin:100% 50%;transform:scaleX(0.933);">84.39%</span>
<span class="t" style="right:276.20px;top:775.99px;color:#c9dca0;font-size:24px;transform-origin:100% 50%;transform:scaleX(0.955);">4,813.0</span>
<span class="t" style="left:2354.20px;top:775.38px;color:#e4e4e4;font-size:28px;transform:translateX(-50%) scaleX(1.15);">+</span>
<span class="t" style="right:1914.50px;top:823.26px;color:#e4e4e4;font-size:24px;transform-origin:100% 50%;transform:scaleX(0.933);">5.37%</span>
<div style="left:680.00px;top:825.12px;width:850.48px;height:24.60px;background:#dc8434;"></div>
<span class="t" style="right:745.00px;top:823.26px;color:#e4e4e4;font-size:24px;transform-origin:100% 50%;transform:scaleX(0.975);">2.76m</span>
<span class="t" style="right:627.00px;top:823.26px;color:#e4e4e4;font-size:24px;transform-origin:100% 50%;transform:scaleX(0.95);">242</span>
<span class="t" style="right:485.50px;top:823.26px;color:#e4e4e4;font-size:24px;transform-origin:100% 50%;transform:scaleX(0.933);">89.76%</span>
<span class="t" style="right:276.20px;top:823.26px;color:#c9dca0;font-size:24px;transform-origin:100% 50%;transform:scaleX(0.955);">4,648.4</span>
<span class="t" style="left:2354.20px;top:822.66px;color:#e4e4e4;font-size:28px;transform:translateX(-50%) scaleX(1.15);">+</span>
<span class="t" style="right:1914.50px;top:870.54px;color:#e4e4e4;font-size:24px;transform-origin:100% 50%;transform:scaleX(0.933);">4.99%</span>
<div style="left:680.00px;top:872.38px;width:789.74px;height:24.60px;background:#d690b5;"></div>
<span class="t" style="right:745.00px;top:870.54px;color:#e4e4e4;font-size:24px;transform-origin:100% 50%;transform:scaleX(0.975);">2.56m</span>
<span class="t" style="right:627.00px;top:870.54px;color:#e4e4e4;font-size:24px;transform-origin:100% 50%;transform:scaleX(0.95);">241</span>
<span class="t" style="right:485.50px;top:870.54px;color:#e4e4e4;font-size:24px;transform-origin:100% 50%;transform:scaleX(0.933);">74.83%</span>
<span class="t" style="right:276.20px;top:870.54px;color:#c9dca0;font-size:24px;transform-origin:100% 50%;transform:scaleX(0.955);">4,316.4</span>
<span class="t" style="left:2354.20px;top:869.94px;color:#e4e4e4;font-size:28px;transform:translateX(-50%) scaleX(1.15);">+</span>
<span class="t" style="right:1914.50px;top:917.83px;color:#e4e4e4;font-size:24px;transform-origin:100% 50%;transform:scaleX(0.933);">2.73%</span>
<div style="left:680.00px;top:919.62px;width:387.00px;height:24.60px;background:#509a7c;"></div>
<div style="left:1068.50px;top:919.62px;width:43.47px;height:24.60px;background:#7bb4bc;"></div>
<span class="t" style="right:745.00px;top:917.83px;color:#e4e4e4;font-size:24px;transform-origin:100% 50%;transform:scaleX(0.975);">1.40m</span>
<span class="t" style="right:627.00px;top:917.83px;color:#e4e4e4;font-size:24px;transform-origin:100% 50%;transform:scaleX(0.95);">240</span>
<span class="t" style="right:485.50px;top:917.83px;color:#e4e4e4;font-size:24px;transform-origin:100% 50%;transform:scaleX(0.933);">68.70%</span>
<span class="t" style="right:276.20px;top:917.83px;color:#c9dca0;font-size:24px;transform-origin:100% 50%;transform:scaleX(0.955);">2,361.0</span>
<span class="t" style="left:2354.20px;top:917.23px;color:#e4e4e4;font-size:28px;transform:translateX(-50%) scaleX(1.15);">+</span>
<span class="t" style="right:1914.50px;top:965.11px;color:#e4e4e4;font-size:24px;transform-origin:100% 50%;transform:scaleX(0.933);">2.27%</span>
<div style="left:680.00px;top:966.88px;width:360.01px;height:24.60px;background:#d690b5;"></div>
<span class="t" style="right:745.00px;top:965.11px;color:#e4e4e4;font-size:24px;transform-origin:100% 50%;transform:scaleX(0.975);">1.17m</span>
<span class="t" style="right:627.00px;top:965.11px;color:#e4e4e4;font-size:24px;transform-origin:100% 50%;transform:scaleX(0.95);">237</span>
<span class="t" style="right:485.50px;top:965.11px;color:#e4e4e4;font-size:24px;transform-origin:100% 50%;transform:scaleX(0.933);">68.00%</span>
<span class="t" style="right:276.20px;top:965.11px;color:#c9dca0;font-size:24px;transform-origin:100% 50%;transform:scaleX(0.955);">1,967.7</span>
<span class="t" style="left:2354.20px;top:964.50px;color:#e4e4e4;font-size:28px;transform:translateX(-50%) scaleX(1.15);">+</span>
<span class="t" style="right:1914.50px;top:1012.39px;color:#e4e4e4;font-size:24px;transform-origin:100% 50%;transform:scaleX(0.933);">1.88%</span>
<div style="left:680.00px;top:1014.13px;width:297.79px;height:24.60px;background:#d690b5;"></div>
<span class="t" style="right:745.00px;top:1012.39px;color:#e4e4e4;font-size:24px;transform-origin:100% 50%;transform:scaleX(0.975);">965.6k</span>
<span class="t" style="right:627.00px;top:1012.39px;color:#e4e4e4;font-size:24px;transform-origin:100% 50%;transform:scaleX(0.95);">239</span>
<span class="t" style="right:485.50px;top:1012.39px;color:#e4e4e4;font-size:24px;transform-origin:100% 50%;transform:scaleX(0.933);">70.48%</span>
<span class="t" style="right:276.20px;top:1012.39px;color:#c9dca0;font-size:24px;transform-origin:100% 50%;transform:scaleX(0.955);">1,627.6</span>
<span class="t" style="left:2354.20px;top:1011.79px;color:#e4e4e4;font-size:28px;transform:translateX(-50%) scaleX(1.15);">+</span>
<span class="t" style="right:1914.50px;top:1059.67px;color:#e4e4e4;font-size:24px;transform-origin:100% 50%;transform:scaleX(0.933);">1.53%</span>
<div style="left:680.00px;top:1061.38px;width:221.00px;height:24.60px;background:#e8e8e8;"></div>
<div style="left:902.50px;top:1061.38px;width:19.65px;height:24.60px;background:#7bb4bc;"></div>
<span class="t" style="right:745.00px;top:1059.67px;color:#e4e4e4;font-size:24px;transform-origin:100% 50%;transform:scaleX(0.975);">785.2k</span>
<span class="t" style="right:627.00px;top:1059.67px;color:#e4e4e4;font-size:24px;transform-origin:100% 50%;transform:scaleX(0.95);">239</span>
<span class="t" style="right:485.50px;top:1059.67px;color:#e4e4e4;font-size:24px;transform-origin:100% 50%;transform:scaleX(0.933);">77.71%</span>
<span class="t" style="right:276.20px;top:1059.67px;color:#c9dca0;font-size:24px;transform-origin:100% 50%;transform:scaleX(0.955);">1,323.5</span>
<span class="t" style="left:2354.20px;top:1059.07px;color:#e4e4e4;font-size:28px;transform:translateX(-50%) scaleX(1.15);">+</span>
<span class="t" style="right:1914.50px;top:1106.95px;color:#e4e4e4;font-size:24px;transform-origin:100% 50%;transform:scaleX(0.933);">1.29%</span>
<div style="left:680.00px;top:1108.63px;width:205.01px;height:24.60px;background:#d690b5;"></div>
<span class="t" style="right:745.00px;top:1106.95px;color:#e4e4e4;font-size:24px;transform-origin:100% 50%;transform:scaleX(0.975);">664.8k</span>
<span class="t" style="right:627.00px;top:1106.95px;color:#e4e4e4;font-size:24px;transform-origin:100% 50%;transform:scaleX(0.95);">241</span>
<span class="t" style="right:485.50px;top:1106.95px;color:#e4e4e4;font-size:24px;transform-origin:100% 50%;transform:scaleX(0.933);">80.85%</span>
<span class="t" style="right:276.20px;top:1106.95px;color:#c9dca0;font-size:24px;transform-origin:100% 50%;transform:scaleX(0.955);">1,120.5</span>
<span class="t" style="left:2354.20px;top:1106.35px;color:#e4e4e4;font-size:28px;transform:translateX(-50%) scaleX(1.15);">+</span>
<span class="t" style="right:1914.50px;top:1154.23px;color:#e4e4e4;font-size:24px;transform-origin:100% 50%;transform:scaleX(0.933);">100%</span>
<span class="t" style="right:745.00px;top:1154.23px;color:#e4e4e4;font-size:24px;transform-origin:100% 50%;transform:scaleX(0.975);">51.37m</span>
<span class="t" style="right:627.00px;top:1154.23px;color:#e4e4e4;font-size:24px;transform-origin:100% 50%;transform:scaleX(0.933);">-</span>
<span class="t" style="right:485.50px;top:1154.23px;color:#e4e4e4;font-size:24px;transform-origin:100% 50%;transform:scaleX(0.933);">593.3s</span>
<span class="t" style="right:276.20px;top:1154.23px;color:#e4e4e4;font-size:24px;transform-origin:100% 50%;transform:scaleX(0.955);">86,579.2</span>
<span class="t" style="left:2354.20px;top:1153.63px;color:#e4e4e4;font-size:28px;transform:translateX(-50%) scaleX(1.15);">+</span>
<div style="left:2294.30px;top:1201.40px;width:92.40px;height:60.00px;background:#222;box-sizing:border-box;border:1.5px solid #3e3e3e;"></div>
<span class="t" style="left:2340.50px;top:1215.50px;color:#d0d0d0;font-size:23px;transform:translateX(-50%) scaleX(0.933);">CSV</span>
<svg width="621" height="430" viewBox="0 818 621 430" style="left:0;top:818px">
<defs><radialGradient id="wL" cx="0.5" cy="0.5" r="0.5"><stop offset="0" stop-color="#45160c"/><stop offset="0.4" stop-color="#32110a" stop-opacity="0.92"/><stop offset="1" stop-color="#120a09" stop-opacity="0"/></radialGradient><linearGradient id="wSkin" gradientUnits="userSpaceOnUse" x1="262" y1="0" x2="490" y2="0"><stop offset="0" stop-color="#1a0c0a"/><stop offset="0.17" stop-color="#4a2a22"/><stop offset="0.32" stop-color="#9a5c4e"/><stop offset="0.42" stop-color="#c47a68"/><stop offset="0.6" stop-color="#b47264"/><stop offset="0.8" stop-color="#946058"/><stop offset="1" stop-color="#6a4642"/></linearGradient><linearGradient id="wRb" gradientUnits="userSpaceOnUse" x1="0" y1="890" x2="0" y2="1195"><stop offset="0" stop-color="#1a0b09"/><stop offset="0.3" stop-color="#260d09"/><stop offset="0.55" stop-color="#3a120a"/><stop offset="0.85" stop-color="#3c120a"/><stop offset="1" stop-color="#1c0a08"/></linearGradient><linearGradient id="wArm" x1="0" y1="0" x2="1" y2="0"><stop offset="0" stop-color="#66543f"/><stop offset="1" stop-color="#2c211a"/></linearGradient><linearGradient id="wY1" gradientUnits="userSpaceOnUse" x1="212" y1="1096" x2="298" y2="1029"><stop offset="0" stop-color="#d8bc24"/><stop offset="0.4" stop-color="#a08c30"/><stop offset="1" stop-color="#5c5024"/></linearGradient><linearGradient id="wY2" gradientUnits="userSpaceOnUse" x1="230" y1="1140" x2="333" y2="1030"><stop offset="0" stop-color="#c8b820"/><stop offset="0.5" stop-color="#a09030"/><stop offset="1" stop-color="#5c5224"/></linearGradient><filter id="b1" color-interpolation-filters="sRGB" x="-20%" y="-20%" width="140%" height="140%"><feGaussianBlur stdDeviation="1"/></filter><filter id="b3" color-interpolation-filters="sRGB" x="-20%" y="-20%" width="140%" height="140%"><feGaussianBlur stdDeviation="3"/></filter><filter id="b5" color-interpolation-filters="sRGB" x="-30%" y="-30%" width="160%" height="160%"><feGaussianBlur stdDeviation="5"/></filter><filter id="b8" color-interpolation-filters="sRGB" x="-30%" y="-30%" width="160%" height="160%"><feGaussianBlur stdDeviation="8"/></filter></defs>
<rect x="0" y="818" width="621" height="430" fill="#110a0a"/>
<ellipse cx="200" cy="1040" rx="270" ry="200" fill="url(#wL)"/>
<path d="M527 895 L600 898 L596 1000 L590 1080 L571 1150 L550 1192 L538 1120 L533 1000 Z" fill="url(#wRb)" filter="url(#b5)"/>
<path d="M236 896 Q262 858 322 846 L440 838 L506 878 L526 960 L522 1060 L528 1140 L545 1200 L566 1250 L250 1250 L236 1130 L247 1040 L243 986 L229 968 L224 940 Z" fill="#0a0606" filter="url(#b3)"/>
<path d="M0 818 L621 818 L621 850 L330 846 L120 870 L0 900 Z" fill="#100a0a" opacity="0.75" filter="url(#b8)"/>
<path d="M318 872 Q304 905 320 968 Q332 930 318 872 Z" fill="#280d09" filter="url(#b3)"/>
<path d="M468 888 Q482 930 470 990 Q460 940 468 888 Z" fill="#30100a" filter="url(#b3)"/>
<path d="M500 1008 Q486 1050 498 1090 Q510 1050 500 1008 Z" fill="#4a160c" filter="url(#b3)"/>
<path d="M478 905 Q470 930 476 950 Q484 930 478 905 Z" fill="#3a120a" filter="url(#b3)"/>
<path d="M360 822 Q500 826 621 872 L621 846 Q520 820 400 818 Z" fill="#1a131c" filter="url(#b3)"/>
<path d="M430 824 Q505 836 600 874 Q505 852 428 832 Z" fill="#5a3c98" filter="url(#b3)" opacity="0.8"/>
<path d="M462 832 Q505 842 540 858 Q500 852 460 838 Z" fill="#9a6cf0" filter="url(#b3)"/>
<path d="M484 839 Q508 846 528 855" stroke="#d4b8ff" stroke-width="2.2" fill="none" filter="url(#b1)" opacity="0.85"/>
<path d="M545 858 Q585 870 619 888" stroke="#74648c" stroke-width="5" fill="none" filter="url(#b3)" opacity="0.8"/>
<path d="M552 856 l8 3 M570 862 l7 3 M588 870 l8 4 M604 878 l7 4" stroke="#b0a4c4" stroke-width="1.6" fill="none" filter="url(#b1)" opacity="0.7"/>
<g fill="#5c4644" filter="url(#b1)"><circle cx="117" cy="998" r="6.3"/><circle cx="102.6" cy="1014" r="6.3"/><circle cx="131.7" cy="1014" r="6.3"/><circle cx="117" cy="1030" r="6.3"/></g>
<g font-family="Liberation Sans, sans-serif" font-size="15" fill="#4c3432" filter="url(#b1)"><text x="148" y="1010.5" textLength="84" lengthAdjust="spacingAndGlyphs">E—SPORTS</text><text x="148" y="1028.5" textLength="76" lengthAdjust="spacingAndGlyphs">NUTRITIO</text></g>
<g font-family="Liberation Sans, sans-serif" font-size="13" fill="#46302e" filter="url(#b1)"><text x="534" y="1027">ficaturix</text><text x="149" y="1131" font-size="20" fill="#5e3e3a">ed</text></g>
<path d="M496 1072 H530 M514 1072 V1094" stroke="#3a2c2c" stroke-width="3" filter="url(#b1)"/>
<path d="M0 1004 L58 1008 L100 1062 L148 1110 L160 1157 L160 1250 L0 1250 Z" fill="#040405" filter="url(#b3)"/>
<path d="M0 1127 L70 1125 L78 1139 L0 1144 Z" fill="#2a384a" filter="url(#b3)"/>
<path d="M4 1104 L16 1058" stroke="#1a2a42" stroke-width="3" filter="url(#b1)"/>
<path d="M0 1200 Q40 1190 71 1188 Q92 1199 112 1195 Q138 1196 158 1180" stroke="#e2481c" stroke-width="5.5" fill="none" filter="url(#b1)"/>
<path d="M186 1112 Q226 1040 336 1020 L352 1034 Q268 1062 232 1146 Z" fill="#120d0d" filter="url(#b1)"/>
<path d="M160.3 1156.5 L186.7 1113.8 L227.4 1097.6 L207 1142 L180.6 1183 Z" fill="#36261f" filter="url(#b1)"/>
<path d="M160.3 1156.5 L180.6 1183 L178.6 1250 L160 1250 Z" fill="url(#wArm)" filter="url(#b1)"/>
<path d="M180.6 1183 L207 1142 L236 1128 L272 1160 L276 1250 L178.6 1250 Z" fill="#05060b" filter="url(#b3)"/>
<path d="M213 1090 Q248 1050 296 1026 L301 1031 Q256 1060 230 1103 Z" fill="url(#wY1)" filter="url(#b1)"/>
<path d="M211 1088 L216 1081 L234 1092 L229 1102 Z" fill="#ecd01e" filter="url(#b1)"/>
<path d="M227 1141 Q262 1072 330 1029 L334 1033 Q272 1082 233 1144 Z" fill="url(#wY2)" filter="url(#b1)"/>
<path d="M252 1250 L240 1150 Q262 1062 342 1040 Q440 1030 500 1100 Q545 1175 520 1250 Z" fill="#0a0606" filter="url(#b8)"/>
<path d="M262 1252 L262 1184 Q300 1162 333 1155 Q355 1152 374 1163 L404 1183 L445 1195 L485 1203 L486 1252 Z" fill="url(#wSkin)" filter="url(#b5)"/>
<path d="M203 1211 L221 1204 L223 1209 L205 1216 Z" fill="#fff" filter="url(#b1)"/>
<path d="M235 1226 Q242 1234 241 1250" stroke="#e84820" stroke-width="4" fill="none" filter="url(#b1)"/>
</svg>
<div style="left:620.5px;top:1078.8px;width:483.3px;height:169px;background:#132a0a;overflow:hidden">
<div style="left:0;top:0px;width:482.6px;height:53.9px;border-radius:0 4px 4px 0;background:linear-gradient(#5fa22e,#55962b 50%,#488825)"></div>
<div style="left:0;top:56.8px;width:482.6px;height:35.2px;border-radius:0 4px 4px 0;background:linear-gradient(#52922a,#478726 50%,#3b7820)"></div>
<div style="left:0;top:95.3px;width:482.6px;height:36.3px;border-radius:0 4px 4px 0;background:linear-gradient(#488825,#3f7c22 50%,#356e1c)"></div>
<div style="left:0;top:134.5px;width:482.6px;height:36px;border-radius:0 4px 4px 0;background:linear-gradient(#427f22,#39741e 50%,#2f661a)"></div>
</div>
<span class="c" style="left:625.6px;top:1091.57px;font-size:33px;font-weight:normal;color:#071004;transform-origin:0 50%;transform:scaleX(1.0581);opacity:1;-webkit-text-stroke:0.9px #071004;">ITUNDER</span>
<span class="c" style="left:625.6px;top:1141.46px;font-size:25.5px;font-weight:normal;color:#1c4210;transform-origin:0 50%;transform:scaleX(1.2612);opacity:1;-webkit-text-stroke:0.4px #1c4210;">WYNNIE_MARIE</span>
<span class="c" style="left:625.6px;top:1179.62px;font-size:26.5px;font-weight:normal;color:#17390d;transform-origin:0 50%;transform:scaleX(1.136);opacity:1;-webkit-text-stroke:0.4px #17390d;">VOERS</span>
<span class="c" style="left:625.6px;top:1218.12px;font-size:26.5px;font-weight:normal;color:#14330b;transform-origin:0 50%;transform:scaleX(1.1727);opacity:1;-webkit-text-stroke:0.4px #14330b;">FUZITIV</span>
<span class="c" style="right:1487.7px;top:1077.92px;font-size:19px;font-weight:bold;color:#0e2408;transform-origin:100% 50%;transform:scaleX(0.9523);opacity:1;">FTED X1</span>
<span class="c" style="right:1487.7px;top:1134.29px;font-size:16.2px;font-weight:bold;color:#1f4a12;transform-origin:100% 50%;transform:scaleX(1.1037);opacity:1;">0 BITS</span>
<span class="c" style="right:1487.5px;top:1172.39px;font-size:16.2px;font-weight:bold;color:#1c4410;transform-origin:100% 50%;transform:scaleX(1.094);opacity:1;">SUB</span>
<span class="c" style="right:1487.5px;top:1210.59px;font-size:16.2px;font-weight:bold;color:#173c0d;transform-origin:100% 50%;transform:scaleX(1.094);opacity:1;">SUB</span>
<svg width="500" height="12" viewBox="615 1036 500 12" style="left:615px;top:1036px"><g fill="none" stroke="#f4f4f4" stroke-width="2.6" stroke-linecap="round"><path d="M831.5 1038.6 Q842 1046.5 852.5 1038.6"/><path d="M887 1039.5 Q891 1044.5 895.5 1039"/><path d="M1036 1039.2 Q1042 1045 1048.5 1038.6"/></g><rect x="624.7" y="1038.6" width="26.5" height="2" fill="#2c82c4"/></svg>
<span class="c" style="right:1914.5px;top:1152.28px;font-size:24px;font-weight:normal;color:#d8e4d0;transform-origin:100% 50%;transform:scaleX(0.7982);opacity:0.55;">100%</span>
<span class="c" style="left:626.2px;top:1042.93px;font-size:23.3px;font-weight:normal;color:#fff;transform-origin:0 50%;transform:scaleX(1.0584);opacity:1;text-shadow:0 0 3px #000,0 0 2px #000,1px 1px 2px #000;">Couldnt be happier for you or the guys!</span>
<div style="left:625px;top:1084px;width:24px;height:24px;border-radius:4px;background:#dcc0e6"><div style="left:7px;top:3px;width:13px;height:18px;background:#3cb4a4;border-radius:2px"></div><div style="left:4px;top:7px;width:5px;height:10px;background:#3cb4a4"></div><div style="left:11px;top:13px;width:6px;height:8px;background:#eef"></div></div>
<span class="c" style="left:664px;top:1081.53px;font-size:23px;font-weight:normal;color:#e83222;transform-origin:0 50%;transform:scaleX(1.1006);opacity:1;">KuEdOn</span>
<span class="c" style="left:773.4px;top:1084.63px;font-size:23px;font-weight:normal;color:#fff;text-shadow:0 0 2px rgba(0,0,0,.75),1px 1px 1px rgba(0,0,0,.55);transform-origin:0 50%;transform:scaleX(1.0634);opacity:1;">REVVEZ PUMPER</span>
<svg width="33" height="32" viewBox="0 0 33 32" style="left:990.5px;top:1083px"><path d="M1 4 L32 0 L31 17 L24 19 L22 30 L3 32 Z" fill="#e0a090"/><path d="M10 2 L32 0 L31 8 Q20 10 12 6 Z" fill="#d08878"/><path d="M2 19 Q12 16 20 17 Q27 16 31 11 L31 16 Q24 23 12 23 Q6 23 2 21 Z" fill="#5a1418"/><path d="M4 23 Q13 26 23 22 L22 30 L4 31 Z" fill="#d07880"/></svg>
<span class="c" style="left:628px;top:1122.78px;font-size:22px;font-weight:bold;color:#8cbdcd;transform-origin:0 50%;transform:scaleX(1.1137);opacity:0.92;">Zinlux13</span>
<span class="c" style="left:738.6px;top:1125.10px;font-size:22.5px;font-weight:normal;color:#fff;text-shadow:0 0 2px rgba(0,0,0,.75),1px 1px 1px rgba(0,0,0,.55);transform-origin:0 50%;transform:scaleX(1.0921);opacity:1;">who needs battle rezzes</span>
<svg width="30" height="32" viewBox="0 0 30 32" style="left:1012px;top:1125px"><ellipse cx="17" cy="13" rx="9" ry="11" fill="#e4c4b0"/><path d="M8 8 Q17 -2 26 8 Q24 4 17 3 Q10 4 8 8Z" fill="#5a4636"/><path d="M9 16 Q12 30 22 26 Q27 22 26 14 Q22 22 15 21 Z" fill="#4a3426"/><ellipse cx="16" cy="19" rx="3" ry="2" fill="#7a2a20"/><path d="M2 30 Q8 22 14 26 L16 32 L2 32Z" fill="#d8c8c0"/></svg>
<div style="left:625px;top:1164.7px;width:25.4px;height:24.2px;border-radius:4px;background:#41a2e2"><svg width="26" height="24" viewBox="0 0 26 24" style="left:0;top:0"><path d="M5 17.5 L5 8.5 L9.5 12 L13 6.5 L16.5 12 L21 8.5 L21 17.5 Z" fill="#fff"/></svg></div>
<span class="c" style="left:663.4px;top:1163.18px;font-size:22px;font-weight:bold;color:#7fb8c8;transform-origin:0 50%;transform:scaleX(1.0966);opacity:0.92;">esinia</span>
<span class="c" style="left:743.6px;top:1164.63px;font-size:23px;font-weight:normal;color:#fff;text-shadow:0 0 2px rgba(0,0,0,.75),1px 1px 1px rgba(0,0,0,.55);transform-origin:0 50%;transform:scaleX(1.0735);opacity:1;">@Rogerbrown Now go Fishing</span>
<span class="c" style="left:629.3px;top:1202.28px;font-size:22px;font-weight:bold;color:#7cb2c2;transform-origin:0 50%;transform:scaleX(1.0938);opacity:0.92;">burrossu</span>
<span class="c" style="left:746px;top:1206.33px;font-size:23px;font-weight:normal;color:#fff;text-shadow:0 0 2px rgba(0,0,0,.75),1px 1px 1px rgba(0,0,0,.55);transform-origin:0 50%;transform:scaleX(1.0451);opacity:1;">Lorgok</span>
<svg width="33" height="32" viewBox="0 0 33 32" style="left:827px;top:1203px"><path d="M1 4 L32 0 L31 17 L24 19 L22 30 L3 32 Z" fill="#e0a090"/><path d="M10 2 L32 0 L31 8 Q20 10 12 6 Z" fill="#d08878"/><path d="M2 19 Q12 16 20 17 Q27 16 31 11 L31 16 Q24 23 12 23 Q6 23 2 21 Z" fill="#5a1418"/><path d="M4 23 Q13 26 23 22 L22 30 L4 31 Z" fill="#d07880"/></svg>
<svg width="26" height="36" viewBox="0 0 26 36" style="left:1428.5px;top:858.5px"><path d="M2.5 2.5 L2.5 26.5 L8.2 21.2 L12.2 30.6 L16.2 28.9 L12.2 19.6 L20 19.6 Z" fill="#fff" stroke="#000" stroke-width="1.8" stroke-linejoin="round"/></svg>
<div style="left:0.00px;top:1247.80px;width:2584.00px;height:7.00px;background:#5c5c5c;"></div>
<div style="left:0.00px;top:1247.80px;width:1217.50px;height:7.00px;background:#a67cf6;"></div>
<div style="left:2294.50px;top:1247.80px;width:92.50px;height:7.00px;background:#8c8c8c;"></div>
</div></body></html>
